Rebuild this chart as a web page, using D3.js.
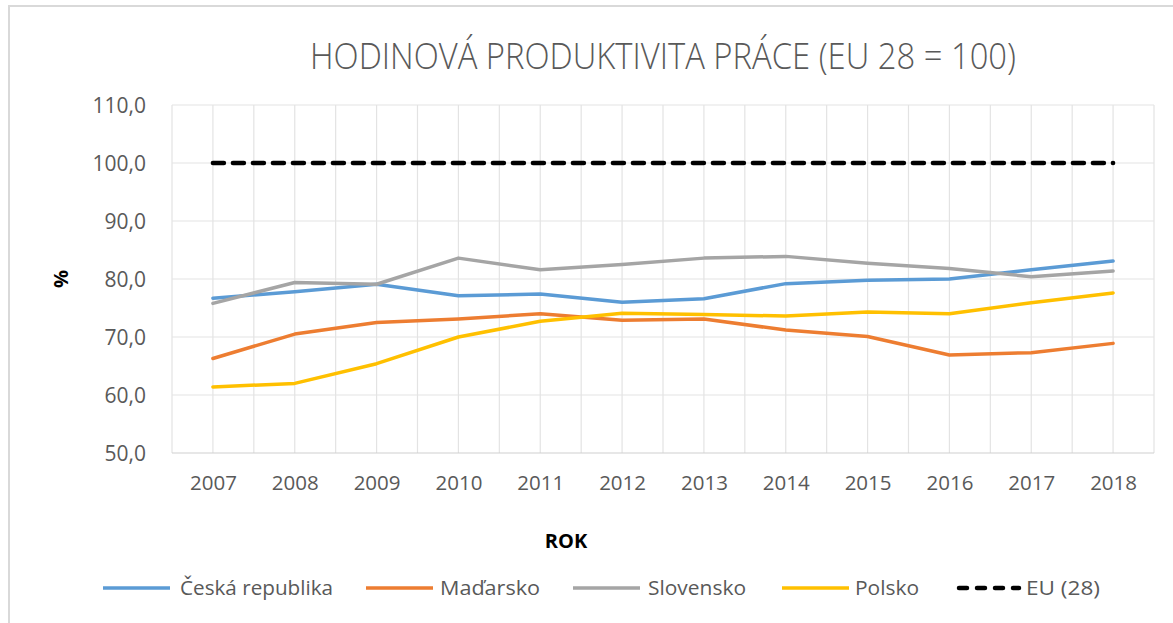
<!DOCTYPE html>
<html>
<head>
<meta charset="utf-8">
<script src="https://cdn.jsdelivr.net/npm/d3@7"></script>
<style>
html,body{margin:0;padding:0;background:#fff;}
svg{display:block;}
</style>
</head>
<body>
<svg id="chart" width="1173" height="623"></svg>
<script>
const years = ["2007","2008","2009","2010","2011","2012","2013","2014","2015","2016","2017","2018"];
const ceskaRepublika = [76.7,77.8,79.1,77.1,77.4,76.0,76.6,79.2,79.8,80.0,81.6,83.1];
const madarsko      = [66.3,70.5,72.5,73.1,74.0,72.9,73.1,71.2,70.1,66.9,67.3,68.9];
const slovensko     = [75.8,79.4,79.1,83.6,81.6,82.5,83.6,83.9,82.7,81.8,80.4,81.4];
const polsko        = [61.4,62.0,65.4,70.0,72.7,74.1,73.9,73.6,74.3,74.0,75.9,77.6];
const eu28          = [100,100,100,100,100,100,100,100,100,100,100,100];
const yTicks = [50,60,70,80,90,100,110];
const seriesNames = ["Česká republika","Maďarsko","Slovensko","Polsko","EU (28)"];
const title = "HODINOVÁ PRODUKTIVITA PRÁCE (EU 28 = 100)";
const xTitle = "ROK";
const yTitle = "%";

const series = [
  {name: seriesNames[0], values: ceskaRepublika, color: "#5B9BD5", dash: null},
  {name: seriesNames[1], values: madarsko, color: "#ED7D31", dash: null},
  {name: seriesNames[2], values: slovensko, color: "#A5A5A5", dash: null},
  {name: seriesNames[3], values: polsko, color: "#FFC000", dash: null},
  {name: seriesNames[4], values: eu28, color: "#000000", dash: "11,9"}
];

const svg = d3.select("#chart");
const pLeft = 172, pRight = 1154, pTop = 105, pBottom = 453;
const textColor = "#595959";
const font = "'Open Sans', 'DejaVu Sans', sans-serif";

// chart frame
svg.append("rect").attr("x", 9).attr("y", 6).attr("width", 1300).attr("height", 800)
  .attr("fill", "none").attr("stroke", "#d9d9d9").attr("stroke-width", 2);

const x = d3.scalePoint().domain(years).range([pLeft, pRight]).padding(0.5);
const y = d3.scaleLinear().domain([50, 110]).range([pBottom, pTop]);
const step = x.step();

// vertical gridlines at every half category
const vLines = [];
years.forEach((yr, i) => { if (i === 0) vLines.push(x(yr) - step/2); vLines.push(x(yr)); vLines.push(x(yr) + step/2); });
svg.append("g").selectAll("line").data(vLines).join("line")
  .attr("x1", d => d).attr("x2", d => d).attr("y1", pTop).attr("y2", pBottom)
  .attr("stroke", "#e3e3e3").attr("stroke-width", 1.2);

// horizontal gridlines
svg.append("g").selectAll("line").data(yTicks).join("line")
  .attr("x1", pLeft).attr("x2", pRight).attr("y1", d => y(d)).attr("y2", d => y(d))
  .attr("stroke", d => d === 50 ? "#d0d0d0" : "#e3e3e3").attr("stroke-width", 1.2);

// y axis labels
const yAxis = d3.axisLeft(y).tickValues(yTicks).tickSize(0).tickPadding(0)
  .tickFormat(d => d3.format(".1f")(d).replace(".", ","));
const gy = svg.append("g").attr("transform", `translate(146,0)`).call(yAxis);
gy.select(".domain").remove();
gy.selectAll("text").attr("fill", textColor).attr("font-family", font).attr("font-size", 21).attr("dy", "0.35em");

// x axis labels
const xAxis = d3.axisBottom(x).tickSize(0).tickPadding(0);
const gx = svg.append("g").attr("transform", `translate(0,${pBottom})`).call(xAxis);
gx.select(".domain").remove();
gx.selectAll("text").attr("fill", textColor).attr("font-family", font).attr("font-size", 20.5).attr("y", 30).attr("dy", "0.35em");

// lines
const line = d3.line().x((d, i) => x(years[i])).y(d => y(d));
series.forEach(s => {
  const p = svg.append("path").datum(s.values).attr("d", line)
    .attr("fill", "none").attr("stroke", s.color)
    .attr("stroke-width", s.dash ? 4.5 : 3.5)
    .attr("stroke-linejoin", "round");
  if (s.dash) p.attr("stroke-dasharray", s.dash).attr("stroke-linecap", "round");
  else p.attr("stroke-linecap", "round");
});

// title
svg.append("text").attr("x", 663).attr("y", 69).attr("text-anchor", "middle")
  .attr("font-family", font).attr("font-weight", 300).attr("font-size", 36)
  .attr("fill", textColor).attr("textLength", 706).attr("lengthAdjust", "spacingAndGlyphs")
  .text(title);

// axis titles
svg.append("text").attr("x", 566).attr("y", 548).attr("text-anchor", "middle")
  .attr("font-family", font).attr("font-weight", 700).attr("font-size", 20).attr("fill", "#000")
  .text(xTitle);
svg.append("text").attr("transform", "translate(68,279) rotate(-90)").attr("text-anchor", "middle")
  .attr("font-family", font).attr("font-weight", 700).attr("font-size", 20).attr("fill", "#000")
  .text(yTitle);

// legend
const legendItems = [
  {lx: 103, tx: 180, tw: 153},
  {lx: 366, tx: 440, tw: 100},
  {lx: 573, tx: 648, tw: 98},
  {lx: 782, tx: 855, tw: 64},
  {lx: 956, tx: 1026, tw: 74}
];
const ly = 588;
series.forEach((s, i) => {
  const it = legendItems[i];
  const l = svg.append("line").attr("x1", it.lx).attr("x2", it.lx + 67).attr("y1", ly).attr("y2", ly)
    .attr("stroke", s.color).attr("stroke-width", s.dash ? 4.5 : 3.5);
  if (s.dash) l.attr("stroke-dasharray", "8,10").attr("stroke-linecap", "round").attr("x1", it.lx + 3).attr("x2", it.lx + 63);
  svg.append("text").attr("x", it.tx).attr("y", ly).attr("dy", "0.35em")
    .attr("font-family", font).attr("font-size", 20).attr("fill", textColor)
    .attr("textLength", it.tw).attr("lengthAdjust", "spacingAndGlyphs")
    .text(s.name);
});
</script>
</body>
</html>
